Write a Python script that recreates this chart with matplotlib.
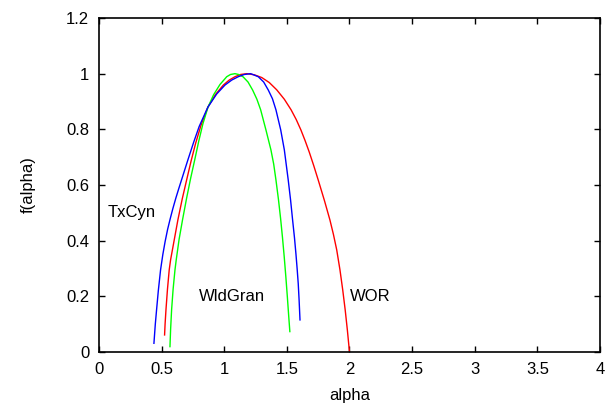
import matplotlib
matplotlib.use('Agg')
import matplotlib.pyplot as plt
from matplotlib.ticker import FormatStrFormatter

plt.rcParams['font.family'] = ['Liberation Sans', 'DejaVu Sans']

# f(alpha) spectra
txcyn_alpha = [0.439, 0.45, 0.46, 0.474, 0.492, 0.51, 0.528, 0.548, 0.568, 0.59,
               0.614, 0.638, 0.662, 0.71, 0.755, 0.80, 0.87, 0.94, 1.006, 1.06,
               1.112, 1.16, 1.211, 1.272, 1.315, 1.352, 1.385, 1.413, 1.451, 1.48,
               1.511, 1.53, 1.546, 1.561, 1.573, 1.582, 1.591, 1.598, 1.605]
txcyn_f = [0.031, 0.1, 0.151, 0.22, 0.295, 0.35, 0.396, 0.44, 0.477, 0.515,
           0.553, 0.588, 0.622, 0.69, 0.752, 0.81, 0.88, 0.927, 0.959, 0.977,
           0.989, 0.997, 1.0, 0.989, 0.97, 0.941, 0.91, 0.87, 0.798, 0.726,
           0.618, 0.545, 0.474, 0.41, 0.35, 0.3, 0.245, 0.185, 0.115]

wor_alpha = [0.524, 0.528, 0.535, 0.547, 0.561, 0.572, 0.60, 0.63, 0.665, 0.70,
             0.735, 0.772, 0.815, 0.87, 0.93, 0.993, 1.04, 1.086, 1.13, 1.18,
             1.24, 1.30, 1.36, 1.419, 1.48, 1.534, 1.575, 1.612, 1.646, 1.679,
             1.715, 1.751, 1.80, 1.844, 1.872, 1.898, 1.924, 1.946, 1.966, 1.983,
             2.0]
wor_f = [0.061, 0.1, 0.151, 0.225, 0.295, 0.331, 0.40, 0.474, 0.55, 0.618,
         0.685, 0.75, 0.815, 0.88, 0.925, 0.959, 0.977, 0.989, 0.997, 1.0,
         0.996, 0.986, 0.968, 0.942, 0.908, 0.87, 0.835, 0.798, 0.759, 0.718,
         0.669, 0.617, 0.544, 0.474, 0.422, 0.367, 0.295, 0.223, 0.15, 0.079,
         0.0]

wldgran_alpha = [0.567, 0.572, 0.58, 0.592, 0.607, 0.617, 0.64, 0.667, 0.70, 0.732,
                 0.765, 0.797, 0.83, 0.87, 0.915, 0.966, 1.02, 1.05, 1.086, 1.115,
                 1.15, 1.19, 1.227, 1.261, 1.291, 1.333, 1.373, 1.395, 1.413, 1.433,
                 1.45, 1.465, 1.479, 1.492, 1.504, 1.515, 1.524]
wldgran_f = [0.019, 0.08, 0.151, 0.225, 0.295, 0.331, 0.405, 0.474, 0.553, 0.624,
             0.691, 0.758, 0.82, 0.879, 0.924, 0.961, 0.989, 0.997, 1.0, 0.997,
             0.989, 0.97, 0.941, 0.908, 0.87, 0.798, 0.726, 0.675, 0.618, 0.548,
             0.48, 0.412, 0.342, 0.27, 0.198, 0.128, 0.073]

labels = ['TxCyn', 'WldGran', 'WOR']
label_pos = [(0.07, 0.5), (0.8, 0.2), (2.0, 0.2)]

fig = plt.figure(figsize=(6.07, 4.15), dpi=100)
ax = fig.add_axes([0.163, 0.152, 0.8255, 0.8046])

ax.plot(wor_alpha, wor_f, color='#ff0000', lw=1.0)
ax.plot(wldgran_alpha, wldgran_f, color='#00ff00', lw=1.0)
ax.plot(txcyn_alpha, txcyn_f, color='#0000ff', lw=1.0)

for txt, (x, y) in zip(labels, label_pos):
    ax.text(x, y, txt, fontsize=12, ha='left', va='center')

ax.set_xlim(0, 4)
ax.set_ylim(0, 1.2)
ax.set_xticks([0, 0.5, 1, 1.5, 2, 2.5, 3, 3.5, 4])
ax.set_yticks([0, 0.2, 0.4, 0.6, 0.8, 1, 1.2])
ax.xaxis.set_major_formatter(FormatStrFormatter('%g'))
ax.yaxis.set_major_formatter(FormatStrFormatter('%g'))
ax.tick_params(direction='in', top=True, right=True, length=4, width=1,
               labelsize=12, pad=7)
for s in ax.spines.values():
    s.set_linewidth(1.2)

ax.set_xlabel('alpha', fontsize=12, labelpad=8)
ax.set_ylabel('f(alpha)', fontsize=12, labelpad=22)

fig.savefig('out.png', dpi=100)
